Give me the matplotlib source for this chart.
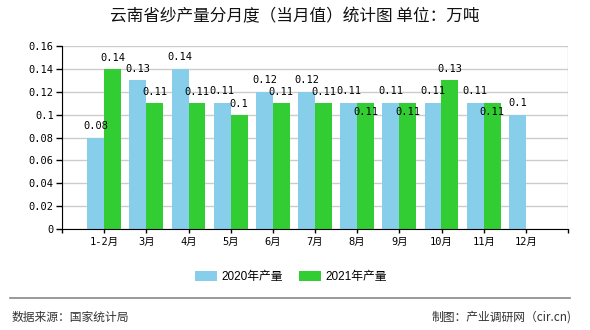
import matplotlib
matplotlib.use('Agg')
import matplotlib.pyplot as plt
from matplotlib.lines import Line2D
import numpy as np

plt.rcParams['font.family'] = ['Noto Sans CJK SC', 'DejaVu Sans']

months = ['1-2月', '3月', '4月', '5月', '6月', '7月', '8月', '9月', '10月', '11月', '12月']
prod_2020 = [0.08, 0.13, 0.14, 0.11, 0.12, 0.12, 0.11, 0.11, 0.11, 0.11, 0.1]
prod_2021 = [0.14, 0.11, 0.11, 0.1, 0.11, 0.11, 0.11, 0.11, 0.13, 0.11, None]
series_names = ['2020年产量', '2021年产量']
y_ticks = [0, 0.02, 0.04, 0.06, 0.08, 0.1, 0.12, 0.14, 0.16]

c2020 = '#87CEEB'
c2021 = '#32CD32'
mono = ['DejaVu Sans Mono', 'Noto Sans CJK SC']

fig = plt.figure(figsize=(5.9, 3.3), dpi=100)
ax = fig.add_axes([62 / 590, 101 / 330, 506 / 590, 183 / 330])

x = np.arange(len(months))
w = 0.4
v2021 = [np.nan if v is None else v for v in prod_2021]
b1 = ax.bar(x - w / 2, prod_2020, w, color=c2020, label=series_names[0], zorder=2)
b2 = ax.bar(x + w / 2, v2021, w, color=c2021, label=series_names[1], zorder=2)

# value labels
for i, v in enumerate(prod_2020):
    ax.annotate(f'{v:g}', (x[i] - w / 2, v), xytext=(0, 8.5), textcoords='offset points',
                ha='center', va='center', fontsize=7.5, family=mono, zorder=3)
for i, v in enumerate(prod_2021):
    if v is None:
        continue
    dy = -6 if v == prod_2020[i] else 8
    ax.annotate(f'{v:g}', (x[i] + w / 2, v), xytext=(0, dy), textcoords='offset points',
                ha='center', va='center', fontsize=7.5, family=mono, zorder=3)

ax.set_xlim(-1, len(months))
ax.set_ylim(0, 0.16)
ax.set_yticks(y_ticks)
ax.set_yticklabels([f'{t:g}' for t in y_ticks], family=mono, fontsize=7.5)
ax.set_xticks(x)
ax.set_xticklabels(months, family=mono, fontsize=7.5)
ax.set_xticks(np.arange(-1, len(months) + 1), minor=True)
ax.tick_params(axis='x', which='minor', length=3, width=1)
ax.tick_params(axis='x', which='major', length=3, width=1, pad=3)
ax.tick_params(axis='y', length=4, width=1, pad=2)
ax.grid(True, which='minor', axis='x', color='#cccccc', lw=1, zorder=0)
ax.grid(True, axis='y', color='#cccccc', lw=1, zorder=0)
ax.set_axisbelow(True)
for s in ['top', 'right']:
    ax.spines[s].set_visible(False)
ax.spines['left'].set_color('black')
ax.spines['bottom'].set_color('black')

fig.text(0.5, 1 - 17 / 330, '云南省纱产量分月度（当月值）统计图 单位：万吨',
         ha='center', va='center', fontsize=12, color='#111111')

fig.legend(handles=[b1, b2], loc='center', bbox_to_anchor=(291 / 590, 53 / 330),
           ncol=2, frameon=False, handlelength=1.85, handleheight=0.85,
           handletextpad=0.35, columnspacing=1.4,
           prop={'family': ['Liberation Sans', 'Noto Sans CJK SC'], 'size': 8.5})

fig.add_artist(Line2D([10 / 590, 570 / 590], [32.5 / 330, 32.5 / 330],
                      color='#888888', lw=1.2, transform=fig.transFigure))
fig.text(12 / 590, 13 / 330, '数据来源：国家统计局', ha='left', va='center',
         fontsize=8.5, color='#333333')
fig.text(572 / 590, 13 / 330, '制图：产业调研网（cir.cn)', ha='right', va='center',
         fontsize=8.5, color='#333333')

fig.savefig('out.png', dpi=100)
